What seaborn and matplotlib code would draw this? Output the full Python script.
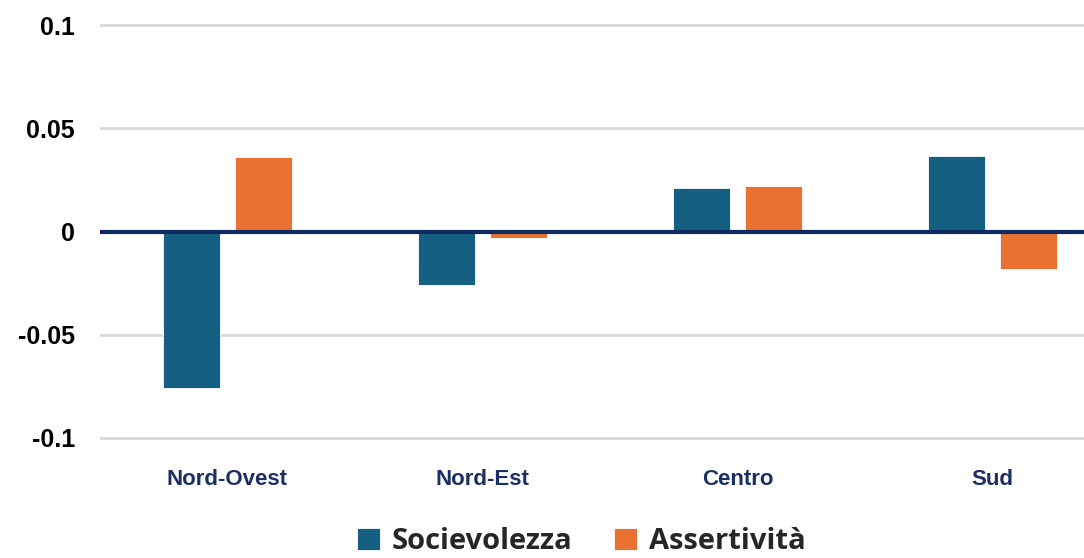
import pandas as pd
import numpy as np
import seaborn as sns
import matplotlib.pyplot as plt

# values
regions = ['Nord-Ovest', 'Nord-Est', 'Centro', 'Sud']
socievolezza = [-0.076, -0.026, 0.021, 0.0365]
assertivita = [0.036, -0.0033, 0.0222, -0.0184]
series_names = ['Socievolezza', 'Assertività']
ytick_vals = [-0.1, -0.05, 0, 0.05, 0.1]
ytick_labels = ['-0.1', '-0.05', '0', '0.05', '0.1']

df = pd.DataFrame({
    'regione': regions * 2,
    'serie': [series_names[0]] * 4 + [series_names[1]] * 4,
    'valore': socievolezza + assertivita,
})

sns.set_style('white')
plt.rcParams['font.family'] = ['Liberation Sans', 'DejaVu Sans']

fig = plt.figure(figsize=(10.84, 5.58), dpi=100)
ax = fig.add_axes([100 / 1084, 1 - 448.3 / 558, 1 - 100 / 1084, 433.6 / 558])

sns.barplot(data=df, x='regione', y='valore', hue='serie', ax=ax,
            palette=['#156082', '#E97132'], saturation=1, width=0.565, gap=0.22,
            edgecolor='white', linewidth=0.6, zorder=3)

ax.set_ylim(-0.105, 0.105)
ax.set_xlim(-0.5, -0.5 + 984 / 255)
ax.set_yticks(ytick_vals)
ax.set_yticklabels(ytick_labels, fontsize=18, fontweight='bold', color='black')
ax.set_xticks(range(len(regions)))
ax.set_xticklabels(regions, fontsize=16, fontweight='bold', color='#1b2f63')
ax.tick_params(axis='y', length=0, pad=18)
ax.tick_params(axis='x', length=0, pad=15)
for v in ytick_vals:
    if v != 0:
        ax.axhline(v, color='#d9d9d9', linewidth=2, zorder=1)
ax.axhline(0, color='#0e2a5e', linewidth=3, zorder=4)
for s in ax.spines.values():
    s.set_visible(False)
ax.set_xlabel('')
ax.set_ylabel('')

ax.legend(loc='center', bbox_to_anchor=(0.5 - 100 / 1084 / 2 + 38 / 1084, -0.215),
          ncol=2, frameon=False, handlelength=0.8, handleheight=0.8,
          handletextpad=0.4, columnspacing=1.4,
          prop={'family': 'Open Sans', 'weight': 'bold', 'size': 21})

plt.savefig('out.png', dpi=100)
